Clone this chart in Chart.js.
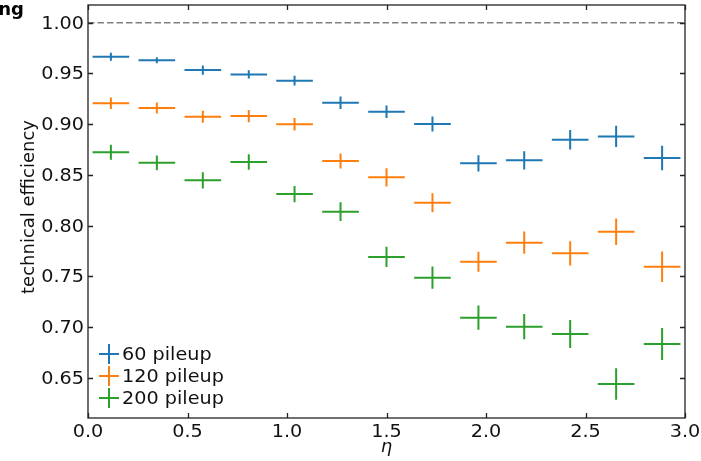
<!DOCTYPE html>
<html>
<head>
<meta charset="utf-8">
<script src="https://cdn.jsdelivr.net/npm/chart.js@4/dist/chart.umd.min.js"></script>
<style>
  html, body { margin: 0; padding: 0; background: #fff; }
  #wrap { width: 701px; height: 461px; position: relative; }
</style>
</head>
<body>
<div id="wrap"><canvas id="effChart"></canvas></div>
<script>
// eta bin centres (13 equal bins between 0 and 3) and half bin width
const etaBins = [0.115, 0.346, 0.577, 0.808, 1.038, 1.269, 1.5, 1.731, 1.962, 2.192, 2.423, 2.654, 2.885];
const etaHalfWidth = 0.092;

// technical efficiency per pileup scenario
const eff60 = [0.9665, 0.963, 0.9534, 0.9491, 0.9429, 0.9212, 0.9123, 0.9002, 0.8615, 0.8644, 0.8847, 0.888, 0.8667];
const err60 = [0.004, 0.003, 0.0046, 0.004, 0.0048, 0.0062, 0.0062, 0.0074, 0.008, 0.009, 0.0095, 0.0105, 0.012];

const eff120 = [0.9206, 0.916, 0.9074, 0.908, 0.900, 0.8637, 0.8477, 0.8227, 0.7645, 0.7833, 0.7728, 0.794, 0.7596];
const err120 = [0.0057, 0.0055, 0.006, 0.006, 0.0062, 0.0074, 0.009, 0.0094, 0.0098, 0.011, 0.012, 0.013, 0.015];

const eff200 = [0.8723, 0.862, 0.8447, 0.8628, 0.8312, 0.8138, 0.7692, 0.7488, 0.7094, 0.7005, 0.6933, 0.644, 0.6834];
const err200 = [0.0074, 0.0073, 0.008, 0.0077, 0.008, 0.0092, 0.01, 0.011, 0.012, 0.0125, 0.0137, 0.0156, 0.0158];

const seriesLabels = ['60 pileup', '120 pileup', '200 pileup'];
const seriesColors = ['#1f77b4', '#ff7f0e', '#2ca02c'];

const xTicks = [0, 0.5, 1.0, 1.5, 2.0, 2.5, 3.0];
const yTicks = [0.65, 0.70, 0.75, 0.80, 0.85, 0.90, 0.95, 1.00];
const referenceLine = 1.0;

const FONT = 'DejaVu Sans';
const TEXT_STRETCH = 1.13;

function makePoints(vals, errs) {
  return etaBins.map((x, i) => ({ x: x, y: vals[i], xErr: etaHalfWidth, yErr: errs[i] }));
}

const allVals = [eff60, eff120, eff200];
const allErrs = [err60, err120, err200];

const datasets = seriesLabels.map((label, i) => ({
  label: label,
  data: makePoints(allVals[i], allErrs[i]),
  borderColor: seriesColors[i],
  backgroundColor: seriesColors[i],
  pointRadius: 0,
  showLine: false
}));

// text drawn slightly wider than the font, like the reference
function wideText(ctx, txt, x, y, align, baseline) {
  ctx.save();
  ctx.textAlign = align;
  ctx.textBaseline = baseline;
  ctx.translate(x, y);
  ctx.scale(TEXT_STRETCH, 1);
  ctx.fillText(txt, 0, 0);
  ctx.restore();
}

// horizontal dashed line at 1.0
const refLinePlugin = {
  id: 'refLine',
  beforeDatasetsDraw(chart) {
    const { ctx, chartArea, scales } = chart;
    const py = scales.y.getPixelForValue(referenceLine);
    ctx.save();
    ctx.strokeStyle = '#808080';
    ctx.lineWidth = 1.5;
    ctx.setLineDash([6.5, 3]);
    ctx.beginPath();
    ctx.moveTo(chartArea.left, py);
    ctx.lineTo(chartArea.right, py);
    ctx.stroke();
    ctx.restore();
  }
};

// x/y error bars drawn through the scales
const errorBarPlugin = {
  id: 'errorBars',
  afterDatasetsDraw(chart) {
    const { ctx, scales: { x, y } } = chart;
    ctx.save();
    ctx.lineWidth = 2;
    chart.data.datasets.forEach(ds => {
      ctx.strokeStyle = ds.borderColor;
      ds.data.forEach(p => {
        const px = x.getPixelForValue(p.x);
        const py = y.getPixelForValue(p.y);
        ctx.beginPath();
        ctx.moveTo(x.getPixelForValue(p.x - p.xErr), py);
        ctx.lineTo(x.getPixelForValue(p.x + p.xErr), py);
        ctx.moveTo(px, y.getPixelForValue(p.y - p.yErr));
        ctx.lineTo(px, y.getPixelForValue(p.y + p.yErr));
        ctx.stroke();
      });
    });
    ctx.restore();
  }
};

// frame, inward ticks, tick labels, legend and axis titles
const decorPlugin = {
  id: 'decor',
  afterDraw(chart) {
    const { ctx, chartArea: a, scales: { x, y } } = chart;
    const tl = 5;
    ctx.save();
    ctx.strokeStyle = '#222';
    ctx.lineWidth = 1.3;
    ctx.strokeRect(a.left, a.top, a.right - a.left, a.bottom - a.top);
    ctx.beginPath();
    xTicks.forEach(v => {
      const px = Math.round(x.getPixelForValue(v)) + 0.5;
      ctx.moveTo(px, a.bottom); ctx.lineTo(px, a.bottom - tl);
      ctx.moveTo(px, a.top); ctx.lineTo(px, a.top + tl);
    });
    yTicks.forEach(v => {
      const py = Math.round(y.getPixelForValue(v)) + 0.5;
      ctx.moveTo(a.left, py); ctx.lineTo(a.left + tl, py);
      ctx.moveTo(a.right, py); ctx.lineTo(a.right - tl, py);
    });
    ctx.stroke();

    // tick labels
    ctx.fillStyle = '#111';
    ctx.font = '17px ' + FONT;
    xTicks.forEach(v => {
      wideText(ctx, v.toFixed(1), x.getPixelForValue(v), a.bottom + 19, 'center', 'alphabetic');
    });
    yTicks.forEach(v => {
      wideText(ctx, v.toFixed(2), a.left - 4, y.getPixelForValue(v) + 6, 'right', 'alphabetic');
    });

    // legend, lower left inside the axes
    ctx.lineWidth = 2;
    seriesLabels.forEach((label, i) => {
      const cx = a.left + 21;
      const cy = a.bottom - 64 + i * 22;
      ctx.strokeStyle = seriesColors[i];
      ctx.beginPath();
      ctx.moveTo(cx - 10, cy); ctx.lineTo(cx + 10, cy);
      ctx.moveTo(cx, cy - 10); ctx.lineTo(cx, cy + 10);
      ctx.stroke();
      ctx.fillStyle = '#111';
      wideText(ctx, label, cx + 13, cy + 6, 'left', 'alphabetic');
    });

    // axis titles
    ctx.fillStyle = '#111';
    ctx.textAlign = 'center';
    ctx.textBaseline = 'alphabetic';
    ctx.font = 'italic 18px ' + FONT;
    ctx.fillText('\u03b7', (a.left + a.right) / 2, 452);

    ctx.font = '18px ' + FONT;
    ctx.translate(34, 207);
    ctx.rotate(-Math.PI / 2);
    ctx.fillText('technical efficiency', 0, 0);
    ctx.restore();

    // remnant of the cropped caption
    ctx.save();
    ctx.font = 'bold 18px ' + FONT;
    ctx.fillStyle = '#000';
    ctx.textAlign = 'right';
    ctx.textBaseline = 'alphabetic';
    ctx.fillText('ng', 24, 15);
    ctx.restore();
  }
};

new Chart(document.getElementById('effChart'), {
  type: 'scatter',
  data: { datasets: datasets },
  options: {
    responsive: true,
    maintainAspectRatio: false,
    animation: false,
    devicePixelRatio: 1,
    layout: { padding: { top: 5, right: 16, left: 0, bottom: 0 } },
    plugins: { legend: { display: false }, tooltip: { enabled: false } },
    scales: {
      x: {
        type: 'linear',
        min: 0, max: 3,
        afterBuildTicks: s => { s.ticks = xTicks.map(v => ({ value: v })); },
        afterFit: s => { s.height = 43; },
        grid: { display: false },
        border: { display: false },
        ticks: { display: false }
      },
      y: {
        type: 'linear',
        min: 0.6105, max: 1.0175,
        afterBuildTicks: s => { s.ticks = yTicks.map(v => ({ value: v })); },
        afterFit: s => { s.width = 88; },
        grid: { display: false },
        border: { display: false },
        ticks: { display: false }
      }
    }
  },
  plugins: [refLinePlugin, errorBarPlugin, decorPlugin]
});
</script>
</body>
</html>
